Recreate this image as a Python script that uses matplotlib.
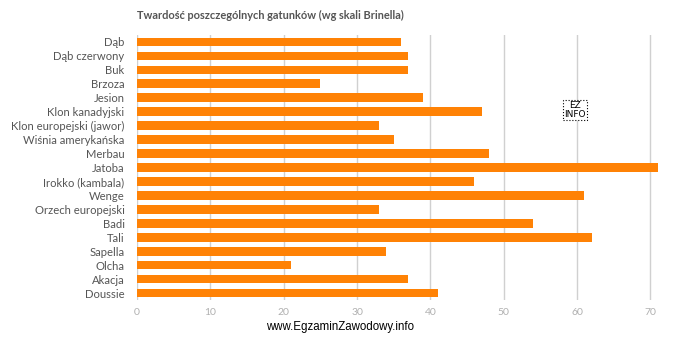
import matplotlib
matplotlib.use("Agg")
import matplotlib.pyplot as plt

categories = ["Dąb", "Dąb czerwony", "Buk", "Brzoza", "Jesion", "Klon kanadyjski",
              "Klon europejski (jawor)", "Wiśnia amerykańska", "Merbau", "Jatoba",
              "Irokko (kambala)", "Wenge", "Orzech europejski", "Badi", "Tali",
              "Sapella", "Olcha", "Akacja", "Doussie"]
values = [36, 37, 37, 25, 39, 47, 33, 35, 48, 71, 46, 61, 33, 54, 62, 34, 21, 37, 41]
xticks = [0, 10, 20, 30, 40, 50, 60, 70]
title = "Twardość poszczególnych gatunków (wg skali Brinella)"
watermark = "www.EgzaminZawodowy.info"

fig = plt.figure(figsize=(6.78, 3.37), dpi=100)
ax = fig.add_axes([137/678, 1-300/337, (665-137)/678, (300-35)/337])

ypos = list(range(len(categories)))
ax.barh(ypos, values, height=0.62, color="#ff8205", zorder=3)
ax.set_ylim(len(categories)-0.5, -0.5)
ax.set_xlim(0, 72)
ax.set_xticks(xticks)
ax.set_yticks(ypos)
ax.set_yticklabels(categories, fontsize=8.1, color="#555555", family="Lato")
for t in ax.get_xticklabels():
    t.set_fontsize(7.5)
    t.set_color("#b0b0b0")
    t.set_family("Lato")
ax.tick_params(axis="both", length=0, pad=6)
ax.tick_params(axis="y", pad=9)
ax.grid(axis="x", color="#d0d0d0", linewidth=1, zorder=0)
for s in ax.spines.values():
    s.set_visible(False)

fig.text(137/678, 1-15/337, title, fontsize=7.95, fontweight="bold", color="#555555",
         family="Lato", ha="left", va="center")
fig.text(340/678, 1-327/337, watermark, fontsize=8.3, color="#000000",
         family="Liberation Sans", ha="center", va="center")
fig.text(575/678, 1-110/337, "EZ\nINFO", fontsize=6.5, color="#000000", ha="center",
         va="center", family="DejaVu Sans", linespacing=0.9,
         bbox=dict(boxstyle="square,pad=0.12", fc="white", ec="black", ls=":", lw=0.8))

fig.savefig("out.png", dpi=100)
